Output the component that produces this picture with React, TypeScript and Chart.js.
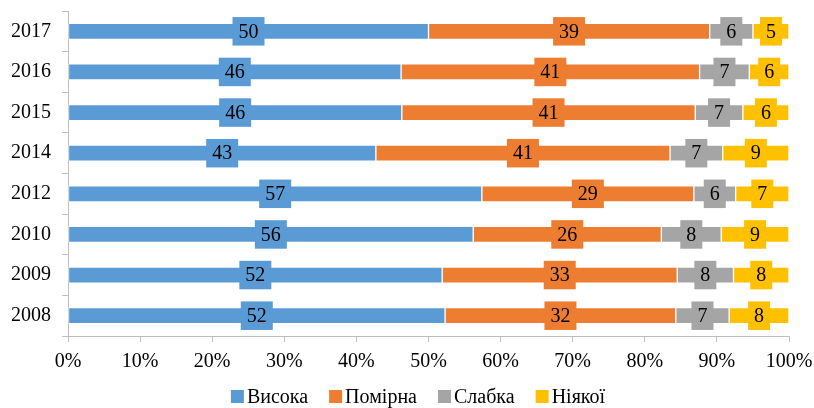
import React, { useEffect, useRef } from 'react';
import { Chart, registerables } from 'chart.js';

Chart.register(...registerables);

const years = ['2017', '2016', '2015', '2014', '2012', '2010', '2009', '2008'];
const seriesNames = ['Висока', 'Помірна', 'Слабка', 'Ніякої'];
const colors = ['#5B9BD5', '#ED7D31', '#A5A5A5', '#FFC000'];
const vysoka = [50.0, 46.2, 46.3, 42.7, 57.4, 56.2, 51.9, 52.3];
const pomirna = [39.0, 41.4, 40.7, 40.8, 29.4, 26.1, 32.6, 32.0];
const slabka = [6.0, 6.9, 6.6, 7.3, 5.8, 8.3, 7.8, 7.4];
const niyakoi = [5.0, 5.5, 6.4, 9.2, 7.4, 9.4, 7.7, 8.3];
const xTickValues = [0, 10, 20, 30, 40, 50, 60, 70, 80, 90, 100];

const FONT = "'Liberation Serif', 'Times New Roman', serif";
const FONT_SIZE = 20;

const seriesData = [vysoka, pomirna, slabka, niyakoi];

const labelPlugin = {
  id: 'boxLabels',
  afterDatasetsDraw(chart: any) {
    const ctx = chart.ctx;
    ctx.save();
    ctx.font = `${FONT_SIZE}px ${FONT}`;
    ctx.textAlign = 'center';
    ctx.textBaseline = 'middle';
    chart.data.datasets.forEach((ds: any, i: number) => {
      const meta = chart.getDatasetMeta(i);
      meta.data.forEach((el: any, j: number) => {
        const p = el.getProps(['x', 'y', 'base'], true);
        const cx = (p.x + p.base) / 2;
        const text = String(Math.round(ds.data[j]));
        const w = ctx.measureText(text).width + 12;
        const h = 28.5;
        ctx.fillStyle = colors[i];
        ctx.fillRect(cx - w / 2, p.y - h / 2, w, h);
        ctx.fillStyle = '#000';
        ctx.fillText(text, cx, p.y + 1);
      });
    });
    ctx.restore();
  },
};

const legendPlugin = {
  id: 'customLegend',
  afterDraw(chart: any) {
    const ctx = chart.ctx;
    ctx.save();
    ctx.font = `${FONT_SIZE}px ${FONT}`;
    ctx.textBaseline = 'alphabetic';
    ctx.textAlign = 'left';
    const box = 13;
    const boxGap = 3;
    const itemGap = 21;
    const widths = seriesNames.map((n) => box + boxGap + ctx.measureText(n).width);
    const total = widths.reduce((a, b) => a + b, 0) + itemGap * (seriesNames.length - 1);
    let x = 418 - total / 2;
    const baseline = 403;
    seriesNames.forEach((n, i) => {
      ctx.fillStyle = colors[i];
      ctx.fillRect(x, baseline - 13, box, box);
      ctx.fillStyle = '#000';
      ctx.fillText(n, x + box + boxGap, baseline);
      x += widths[i] + itemGap;
    });
    ctx.restore();
  },
};

export default function App() {
  const ref = useRef<HTMLCanvasElement | null>(null);
  useEffect(() => {
    if (!ref.current) return;
    const chart = new Chart(ref.current, {
      type: 'bar',
      data: {
        labels: years,
        datasets: seriesNames.map((name, i) => ({
          label: name,
          data: seriesData[i],
          backgroundColor: colors[i],
          borderColor: 'rgba(255,255,255,0.5)',
          borderWidth: 1,
          borderSkipped: false,
          barThickness: 16,
        })),
      },
      options: {
        indexAxis: 'y',
        responsive: false,
        animation: false,
        layout: { padding: { top: 11, right: 25, left: 0, bottom: 0 } },
        plugins: { legend: { display: false }, tooltip: { enabled: false } },
        scales: {
          x: {
            stacked: true,
            min: 0,
            max: 100,
            afterBuildTicks: (s: any) => {
              s.ticks = xTickValues.map((v) => ({ value: v }));
            },
            ticks: {
              callback: (v: any) => `${v}%`,
              font: { family: FONT, size: FONT_SIZE },
              color: '#000',
              padding: 8,
              maxRotation: 0,
              autoSkip: false,
            },
            grid: { drawOnChartArea: false, drawTicks: true, tickLength: 6, color: '#BFBFBF' },
            border: { color: '#BFBFBF' },
            afterFit: (s: any) => {
              s.height = 72;
              s.paddingLeft = 0;
              s.paddingRight = 0;
            },
          },
          y: {
            stacked: true,
            ticks: {
              font: { family: FONT, size: FONT_SIZE },
              color: '#000',
              padding: 11,
            },
            grid: { offset: true, drawOnChartArea: false, drawTicks: true, tickLength: 6, color: '#BFBFBF' },
            border: { color: '#BFBFBF' },
            afterFit: (s: any) => {
              s.width = 68;
              s.paddingTop = 0;
              s.paddingBottom = 0;
            },
          },
        },
      },
      plugins: [labelPlugin, legendPlugin],
    });
    return () => chart.destroy();
  }, []);
  return (
    <div style={{ position: 'absolute', left: 0, top: 0, width: 814, height: 408, background: '#fff' }}>
      <canvas ref={ref} width={814} height={408} style={{ display: 'block' }} />
    </div>
  );
}
